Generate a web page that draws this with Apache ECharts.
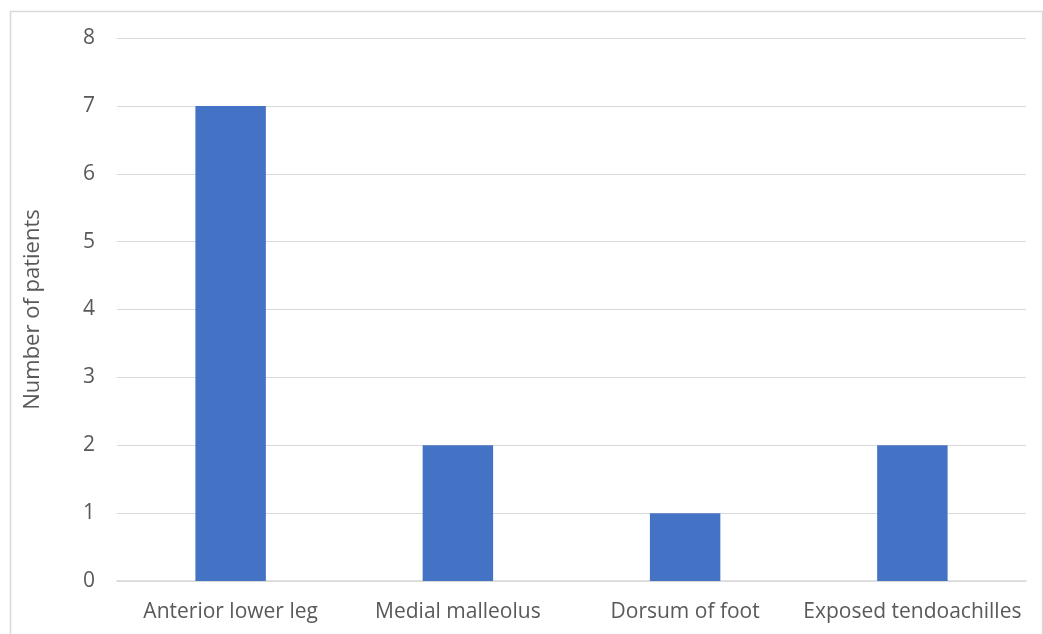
<!DOCTYPE html>
<html>
<head>
<meta charset="utf-8">
<script src="https://cdn.jsdelivr.net/npm/echarts@6/dist/echarts.min.js"></script>
<style>
  html, body { margin: 0; padding: 0; background: #fff; }
  #chart { width: 1043px; height: 634px; }
</style>
</head>
<body>
<div id="chart"></div>
<script>
// Wound locations and patient counts
const categories = ['Anterior lower leg', 'Medial malleolus', 'Dorsum of foot', 'Exposed tendoachilles'];
const patients = [7, 2, 1, 2];
const yAxisTitle = 'Number of patients';

const textColor = '#595959';
const fontFamily = '"Open Sans", Lato, "Liberation Sans", sans-serif';

const chart = echarts.init(document.getElementById('chart'), null, { renderer: 'canvas' });
chart.setOption({
  animation: false,
  backgroundColor: '#ffffff',
  graphic: [{
    type: 'rect',
    left: 8, top: 9,
    shape: { width: 1032, height: 640 },
    style: { fill: 'none', stroke: '#d9d9d9', lineWidth: 1.5 },
    silent: true
  }],
  grid: { left: 117, right: 17, top: 38, bottom: 53 },
  xAxis: {
    type: 'category',
    data: categories,
    axisLine: { lineStyle: { color: '#d9d9d9', width: 1.5 } },
    axisTick: { show: false },
    axisLabel: { color: textColor, fontSize: 21, fontFamily, margin: 21, interval: 0 }
  },
  yAxis: {
    type: 'value',
    min: 0, max: 8, interval: 1,
    name: yAxisTitle,
    nameLocation: 'middle',
    nameGap: 73,
    nameTextStyle: { color: textColor, fontSize: 22, fontFamily },
    axisLine: { show: false },
    axisTick: { show: false },
    axisLabel: { color: textColor, fontSize: 21, fontFamily, margin: 22 },
    splitLine: { lineStyle: { color: '#d9d9d9', width: 1.2 } }
  },
  series: [{
    type: 'bar',
    data: patients,
    barWidth: '31%',
    itemStyle: { color: '#4472C4' }
  }]
});
</script>
</body>
</html>
